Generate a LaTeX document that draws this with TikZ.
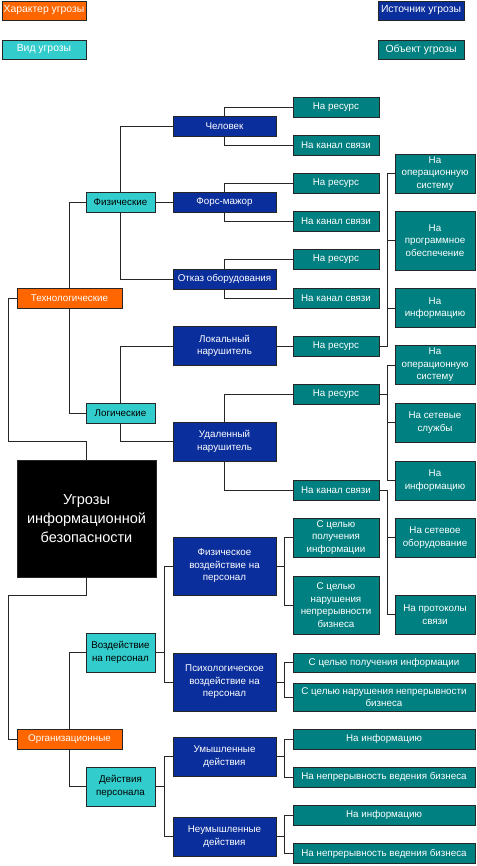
\documentclass[tikz,border=0pt]{standalone}
\usepackage{fontspec}
\setmainfont{Liberation Sans}
\definecolor{threatorange}{RGB}{255,102,0}
\definecolor{threatcyan}{RGB}{51,204,204}
\definecolor{threatnavy}{RGB}{10,46,156}
\definecolor{threatteal}{RGB}{0,128,128}
\begin{document}
\begin{tikzpicture}[x=1pt,y=-1pt,
  box/.style={draw=black!85,line width=0.9pt,inner sep=0pt,align=center,text=white,
    font=\fontsize{9.8}{12.6}\selectfont,minimum height=20pt},
  charbox/.style={box,fill=threatorange,minimum width=105pt},
  typebox/.style={box,fill=threatcyan,text=black,minimum width=69pt},
  srcbox/.style={box,fill=threatnavy,minimum width=103pt},
  objbox/.style={box,fill=threatteal,minimum width=86pt},
  colbox/.style={box,fill=threatteal,minimum width=80pt,minimum height=39pt},
  widebox/.style={box,fill=threatteal,minimum width=182pt},
  keybox/.style={box,minimum width=84pt,minimum height=19pt,font=\fontsize{10.4}{12.6}\selectfont},
  tall/.style={minimum height=39pt},
  taller/.style={minimum height=58pt},
  link/.style={line width=0.9pt,black!85}]
\useasboundingbox (0,0) rectangle (476,866);

\node[keybox,fill=threatorange] (keychar) at (44,10.5) {Характер угрозы};
\node[keybox,fill=threatcyan] (keytype) at (44,49.5) {Вид угрозы};
\node[keybox,fill=threatnavy,minimum width=86pt] (keysrc) at (421,10.5) {Источник угрозы};
\node[keybox,fill=threatteal,minimum width=86pt] (keyobj) at (421,49.5) {Объект угрозы};

\node[box,fill=black,minimum width=139pt,minimum height=117pt,
  font=\fontsize{14.5}{19}\selectfont] (root) at (86.5,518.5) {Угрозы\\информационной\\безопасности};

\node[charbox] (tech) at (69.5,298) {Технологические};
\node[charbox] (org) at (69.5,739) {Организационные};

\node[typebox] (phys) at (120.5,202) {Физические};
\node[typebox] (logic) at (120.5,413) {Логические};
\node[typebox,tall] (impact) at (120.5,652.5) {Воздействие\\на персонал};
\node[typebox,tall] (acts) at (120.5,786.5) {Действия\\персонала};

\node[srcbox] (man) at (224.5,126) {Человек};
\node[srcbox] (force) at (224.5,202) {Форс-мажор};
\node[srcbox] (fail) at (224.5,279) {Отказ оборудования};
\node[srcbox,tall] (local) at (224.5,346) {Локальный\\нарушитель};
\node[srcbox,tall] (remote) at (224.5,441.5) {Удаленный\\нарушитель};
\node[srcbox,taller] (physimp) at (224.5,566) {Физическое\\воздействие на\\персонал};
\node[srcbox,taller] (psyimp) at (224.5,682) {Психологическое\\воздействие на\\персонал};
\node[srcbox,tall] (deliberate) at (224.5,756.5) {Умышленные\\действия};
\node[srcbox,tall] (accidental) at (224.5,836.5) {Неумышленные\\действия};

\node[objbox] (res1) at (336,107) {На ресурс};
\node[objbox] (chan1) at (336,145) {На канал связи};
\node[objbox] (res2) at (336,183) {На ресурс};
\node[objbox] (chan2) at (336,221) {На канал связи};
\node[objbox] (res3) at (336,259.5) {На ресурс};
\node[objbox] (chan3) at (336,298) {На канал связи};
\node[objbox] (res4) at (336,346) {На ресурс};
\node[objbox] (res5) at (336,394) {На ресурс};
\node[objbox] (chan5) at (336,490) {На канал связи};
\node[objbox,tall] (getinf1) at (336,537.5) {С целью\\получения\\информации};
\node[objbox,taller] (break1) at (336,605) {С целью\\нарушения\\непрерывности\\бизнеса};

\node[colbox] (os1) at (435,173.5) {На\\операционную\\систему};
\node[colbox,minimum height=59pt] (soft) at (435,240.5) {На\\программное\\обеспечение};
\node[colbox] (inf1) at (435,308) {На\\информацию};
\node[colbox] (os2) at (435,365) {На\\операционную\\систему};
\node[colbox] (svc) at (435,422.5) {На сетевые\\службы};
\node[colbox] (inf2) at (435,480.5) {На\\информацию};
\node[colbox] (hw) at (435,537.5) {На сетевое\\оборудование};
\node[colbox] (proto) at (435,614.5) {На протоколы\\связи};

\node[widebox,minimum height=19pt] (getinf2) at (384,662.5) {С целью получения информации};
\node[widebox,minimum height=28pt] (break2) at (384,697) {С целью нарушения непрерывности\\бизнеса};
\node[widebox] (info1) at (384,739) {На информацию};
\node[widebox] (cont1) at (384,777) {На непрерывность ведения бизнеса};
\node[widebox] (info2) at (384,815) {На информацию};
\node[widebox] (cont2) at (384,853.5) {На непрерывность ведения бизнеса};

\draw[link] (root.north) -- ++(0,-18) -| ([xshift=-8pt]tech.west) -- (tech.west);
\draw[link] (root.south) -- ++(0,18) -| ([xshift=-8pt]org.west) -- (org.west);
\draw[link] (tech.north) |- (phys.west);
\draw[link] (tech.south) |- (logic.west);
\draw[link] (org.north) |- (impact.west);
\draw[link] (org.south) |- (acts.west);
\draw[link] (phys.north) |- (man.west);
\draw[link] (phys.east) -- (force.west);
\draw[link] (phys.south) |- (fail.west);
\draw[link] (logic.north) |- (local.west);
\draw[link] (logic.south) |- (remote.west);
\foreach \s in {physimp,psyimp} \draw[link] (impact.east) -- ++(9,0) |- (\s.west);
\foreach \s in {deliberate,accidental} \draw[link] (acts.east) -- ++(9,0) |- (\s.west);
\foreach \s/\a/\b in {man/res1/chan1,force/res2/chan2,fail/res3/chan3,remote/res5/chan5}{
  \draw[link] (\s.north) |- (\a.west);
  \draw[link] (\s.south) |- (\b.west);
}
\draw[link] (local.east) -- (res4.west);
\foreach \s/\a/\b in {physimp/getinf1/break1,psyimp/getinf2/break2,deliberate/info1/cont1,accidental/info2/cont2}{
  \draw[link] (\s.east) -- ++(8,0) |- (\a.west);
  \draw[link] (\s.east) -- ++(8,0) |- (\b.west);
}
\foreach \t in {os1,soft,inf1} \draw[link] (res4.east) -- ++(8,0) |- (\t.west);
\foreach \t in {os2,svc,inf2} \draw[link] (res5.east) -- ++(8,0) |- (\t.west);
\foreach \t in {hw,proto} \draw[link] (chan5.east) -- ++(8,0) |- (\t.west);
\end{tikzpicture}
\end{document}
